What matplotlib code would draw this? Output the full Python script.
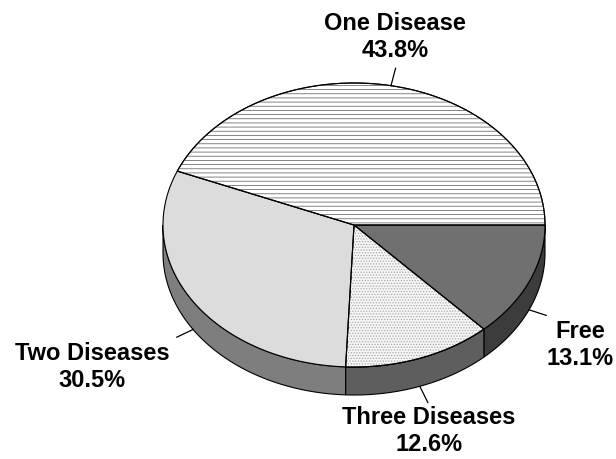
import numpy as np
import matplotlib.pyplot as plt
from matplotlib.patches import Polygon

labels = ["Free", "Three Diseases", "Two Diseases", "One Disease"]
shares = [13.1, 12.6, 30.5, 43.8]
top_colors = ["#707070", "#f6f6f6", "#dcdcdc", "#ffffff"]
side_colors = ["#3c3c3c", "#5e5e5e", "#7e7e7e", "#9a9a9a"]
hatches = [None, "......", None, "----"]
hatch_colors = [None, "#a8a8a8", None, "#707070"]
label_pos = [(580, 345), (429, 431), (92, 367), (395, 37)]

cx, cy = 354, 225      # centre of top face (pixels)
a, b = 191, 142        # semi axes
depth = 28

plt.rcParams["font.family"] = ["Liberation Sans", "DejaVu Sans"]
fig = plt.figure(figsize=(6.16, 4.59), dpi=100)
ax = fig.add_axes([0, 0, 1, 1])
ax.set_xlim(0, 616)
ax.set_ylim(459, 0)
ax.axis("off")

def pt(t, dy=0):
    return cx + a * np.cos(t), cy + b * np.sin(t) + dy

bounds = np.concatenate([[0], np.cumsum(shares)]) / 100 * 2 * np.pi

# side walls (front part only: angles between 0 and pi)
for i in range(len(shares)):
    t0, t1 = max(bounds[i], 0), min(bounds[i + 1], np.pi)
    if t1 <= t0:
        continue
    ts = np.linspace(t0, t1, 80)
    upper = [pt(t) for t in ts]
    lower = [pt(t, depth) for t in ts[::-1]]
    ax.add_patch(Polygon(upper + lower, closed=True, fc=side_colors[i],
                         ec="black", lw=0.8, zorder=1))

# top faces
for i in range(len(shares)):
    ts = np.linspace(bounds[i], bounds[i + 1], 120)
    verts = [(cx, cy)] + [pt(t) for t in ts]
    p = Polygon(verts, closed=True, fc=top_colors[i], ec="black", lw=0.8, zorder=2)
    ax.add_patch(p)
    if hatches[i]:
        h = Polygon(verts, closed=True, fc="none", ec=hatch_colors[i], lw=0,
                    hatch=hatches[i], zorder=3)
        h.set_hatch_linewidth(0.6)
        ax.add_patch(h)
        ax.add_patch(Polygon(verts, closed=True, fc="none", ec="black", lw=0.8, zorder=4))

# labels and leader lines
for i in range(len(shares)):
    mid = (bounds[i] + bounds[i + 1]) / 2
    dy = depth if np.sin(mid) > 0 else 0
    x0, y0 = pt(mid, dy)
    ux, uy = np.cos(mid), np.sin(mid) * b / a
    n = np.hypot(ux, uy)
    ax.plot([x0, x0 + 18 * ux / n], [y0, y0 + 18 * uy / n], color="black", lw=0.9, zorder=5)
    x, y = label_pos[i]
    ax.text(x, y, f"{labels[i]}\n{shares[i]}%", ha="center", va="center",
            fontsize=17, fontweight="bold", linespacing=1.2, zorder=6)

fig.savefig("out.png", dpi=100)
